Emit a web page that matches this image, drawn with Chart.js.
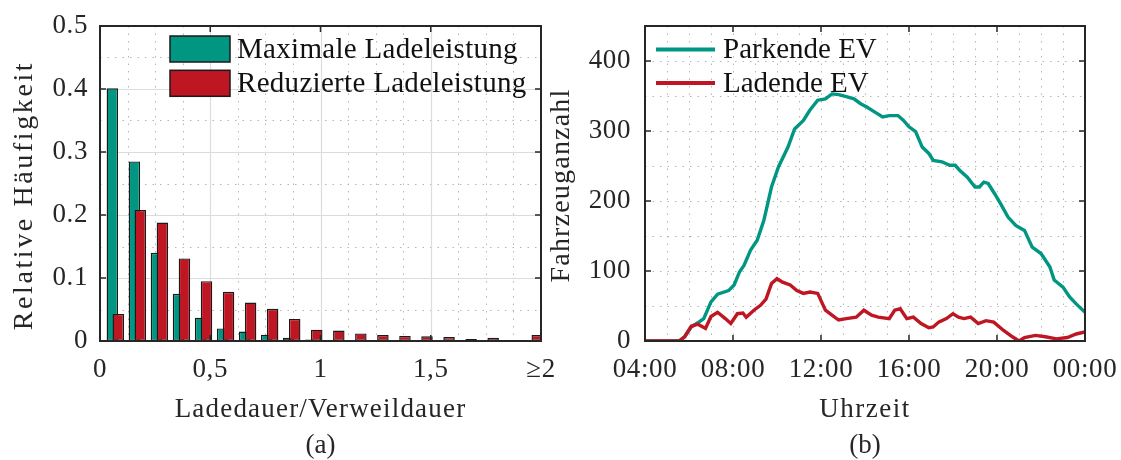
<!DOCTYPE html>
<html lang="de">
<head>
<meta charset="UTF-8">
<title>Ladedauer und Fahrzeuganzahl</title>
<script src="https://cdn.jsdelivr.net/npm/chart.js"></script>
<style>
  html, body { margin: 0; padding: 0; background: #fff; }
  .panel { position: absolute; top: 0; height: 460px; }
  #left { left: 0; width: 570px; }
  #right { left: 548px; width: 573px; }
</style>
</head>
<body>
<div class="panel" id="left"><canvas id="histChart" width="570" height="460"></canvas></div>
<div class="panel" id="right"><canvas id="countChart" width="573" height="460"></canvas></div>
<script>
// (a) Histogramm Ladedauer/Verweildauer, Klassenbreite 0,1
var binStarts = [0, 0.1, 0.2, 0.3, 0.4, 0.5, 0.6, 0.7, 0.8, 0.9,
                 1.0, 1.1, 1.2, 1.3, 1.4, 1.5, 1.6, 1.7, 1.8, 1.9];
var maxLadeleistung = [0.401, 0.285, 0.140, 0.075, 0.037, 0.020, 0.015, 0.010, 0.005, 0.0025,
                       0.0015, 0.0015, 0.001, 0.0004, 0.0004, 0.0004, 0.0003, 0.0003, 0.001, 0.0002];
var redLadeleistung = [0.043, 0.208, 0.188, 0.131, 0.095, 0.078, 0.061, 0.051, 0.035, 0.018,
                       0.0165, 0.012, 0.0095, 0.008, 0.0074, 0.0063, 0.0032, 0.0053, 0.001, 0.0095];
var histXTicks = [0, 0.5, 1, 1.5, 2];
var histXLabels = ['0', '0,5', '1', '1,5', '\u22652'];
var histYTicks = [0, 0.1, 0.2, 0.3, 0.4, 0.5];

// (b) Parkende und ladende Fahrzeuge über den Tag (Stunden ab 04:00, 24 = 00:00)
var parkendZeit = [4, 5.55, 5.8, 6.1, 6.4, 6.67, 7.0, 7.3, 7.8, 8.05, 8.3, 8.5, 8.8, 9.1, 9.4,
                   9.75, 10.07, 10.5, 10.8, 11.2, 11.5, 11.85, 12.2, 12.5, 12.8, 13.15, 13.5, 13.8,
                   14.1, 14.45, 14.8, 15.1, 15.5, 15.75, 16.0, 16.3, 16.6, 16.9, 17.1, 17.5, 17.85,
                   18.1, 18.3, 18.65, 19.0, 19.2, 19.4, 19.6, 19.9, 20.2, 20.5, 20.85, 21.25, 21.6,
                   22.0, 22.4, 22.6, 23.0, 23.3, 23.6, 24.0];
var parkend = [0, 0, 6, 20, 26, 32, 56, 67, 72, 80, 99, 108, 130, 144, 172,
               220, 249, 277, 303, 315, 330, 344, 346, 353, 352, 349, 346, 339,
               334, 327, 320, 322, 322, 315, 306, 299, 277, 268, 258, 256, 251,
               251, 244, 234, 220, 220, 227, 225, 210, 194, 177, 165, 158, 134,
               125, 106, 87, 77, 63, 53, 41];
var ladendZeit = [4, 5.55, 5.8, 6.1, 6.4, 6.75, 7.0, 7.3, 7.65, 7.9, 8.2, 8.45, 8.6, 8.95, 9.25,
                  9.5, 9.75, 10.0, 10.25, 10.6, 10.9, 11.2, 11.5, 11.85, 12.2, 12.5, 12.8, 13.15,
                  13.6, 13.95, 14.3, 14.6, 15.1, 15.35, 15.6, 15.9, 16.2, 16.55, 16.9, 17.1, 17.35,
                  17.7, 18.0, 18.25, 18.5, 18.8, 19.15, 19.5, 19.85, 20.3, 20.7, 21.0, 21.25, 21.75,
                  22.2, 22.7, 23.2, 23.6, 24.0];
var ladend = [0, 0, 6, 21, 24, 18, 35, 41, 32, 25, 39, 40, 34, 44, 51,
              60, 82, 89, 84, 80, 72, 68, 70, 68, 44, 37, 30, 32,
              34, 44, 37, 34, 32, 44, 46, 32, 34, 25, 19, 20, 27,
              32, 39, 34, 32, 34, 25, 29, 27, 15, 6, 0, 5, 8,
              6, 3, 5, 10, 13];
var timeTicks = [4, 8, 12, 16, 20, 24];
var timeLabels = ['04:00', '08:00', '12:00', '16:00', '20:00', '00:00'];
var countTicks = [0, 100, 200, 300, 400];

var TEAL = '#009682';
var RED = '#be1622';
var INK = '#262626';
var SERIF = '"Liberation Serif", "Times New Roman", serif';

Chart.defaults.font.family = SERIF;
Chart.defaults.font.size = 27;
Chart.defaults.color = INK;

function stepValues(min, max, step) {
  var out = [];
  var n = Math.round((max - min) / step);
  for (var i = 1; i < n; i++) out.push(min + i * step);
  return out;
}

// Gitter, Rahmen mit Innen-Ticks, Achsentitel, Legende und Bildunterschrift im MATLAB-Stil
var framePlugin = {
  id: 'frame',
  beforeDraw: function (chart) {
    // Die Schrift der Vorlage läuft etwas breiter als Liberation Serif
    chart.ctx.letterSpacing = '0.6px';
  },
  beforeDatasetsDraw: function (chart, args, o) {
    var ctx = chart.ctx, a = chart.chartArea;
    var xs = chart.scales.x, ys = chart.scales.y;
    var xMajor = xs.ticks.map(function (t) { return t.value; });
    var yMajor = ys.ticks.map(function (t) { return t.value; });
    function isMajor(list, v) {
      return list.some(function (m) { return Math.abs(m - v) < 1e-6; });
    }
    ctx.save();
    ctx.lineWidth = 1;
    ctx.strokeStyle = '#b5b5b5';
    ctx.setLineDash([1.5, 6]);
    ctx.beginPath();
    stepValues(xs.min, xs.max, o.xMinor).forEach(function (v) {
      if (o.solidMajor && isMajor(xMajor, v)) return;
      var p = Math.round(xs.getPixelForValue(v)) + 0.5;
      ctx.moveTo(p, a.top); ctx.lineTo(p, a.bottom);
    });
    stepValues(ys.min, ys.max, o.yMinor).forEach(function (v) {
      if (o.solidMajor && isMajor(yMajor, v)) return;
      var p = Math.round(ys.getPixelForValue(v)) + 0.5;
      ctx.moveTo(a.left, p); ctx.lineTo(a.right, p);
    });
    ctx.stroke();
    if (o.solidMajor) {
      ctx.setLineDash([]);
      ctx.strokeStyle = '#dcdcdc';
      ctx.lineWidth = 1.2;
      ctx.beginPath();
      xMajor.forEach(function (v) {
        if (v <= xs.min || v >= xs.max) return;
        var p = Math.round(xs.getPixelForValue(v)) + 0.5;
        ctx.moveTo(p, a.top); ctx.lineTo(p, a.bottom);
      });
      yMajor.forEach(function (v) {
        if (v <= ys.min || v >= ys.max) return;
        var p = Math.round(ys.getPixelForValue(v)) + 0.5;
        ctx.moveTo(a.left, p); ctx.lineTo(a.right, p);
      });
      ctx.stroke();
    }
    ctx.restore();
  },
  afterDatasetsDraw: function (chart) {
    var ctx = chart.ctx, a = chart.chartArea;
    var xs = chart.scales.x, ys = chart.scales.y;
    var tl = 6;
    ctx.save();
    ctx.strokeStyle = INK;
    ctx.lineWidth = 1.5;
    ctx.beginPath();
    xs.ticks.forEach(function (t) {
      var p = xs.getPixelForValue(t.value);
      ctx.moveTo(p, a.bottom); ctx.lineTo(p, a.bottom - tl);
      ctx.moveTo(p, a.top); ctx.lineTo(p, a.top + tl);
    });
    ys.ticks.forEach(function (t) {
      var p = ys.getPixelForValue(t.value);
      ctx.moveTo(a.left, p); ctx.lineTo(a.left + tl, p);
      ctx.moveTo(a.right, p); ctx.lineTo(a.right - tl, p);
    });
    ctx.stroke();
    ctx.lineWidth = 2;
    ctx.strokeRect(a.left, a.top, a.right - a.left, a.bottom - a.top);
    ctx.restore();
  },
  afterDraw: function (chart, args, o) {
    var ctx = chart.ctx, a = chart.chartArea;
    var cx = (a.left + a.right) / 2;
    var lg = o.legend;
    ctx.save();
    ctx.textBaseline = 'middle';

    // Legende innerhalb der Achsen
    ctx.font = lg.fontSize + 'px ' + SERIF;
    ctx.letterSpacing = lg.spacingText + 'px';
    ctx.textAlign = 'left';
    chart.data.datasets.forEach(function (ds, i) {
      var cy = a.top + lg.y + i * lg.spacing;
      var x0 = a.left + lg.x;
      if (lg.type === 'box') {
        ctx.fillStyle = ds.backgroundColor;
        ctx.fillRect(x0, cy - lg.h / 2, lg.w, lg.h);
        ctx.strokeStyle = '#1a1a1a';
        ctx.lineWidth = 1.5;
        ctx.strokeRect(x0, cy - lg.h / 2, lg.w, lg.h);
      } else {
        ctx.strokeStyle = ds.borderColor;
        ctx.lineWidth = 4;
        ctx.beginPath();
        ctx.moveTo(x0, cy); ctx.lineTo(x0 + lg.w, cy);
        ctx.stroke();
      }
      ctx.fillStyle = '#111';
      ctx.fillText(ds.label, x0 + lg.textX, cy + 1);
    });

    // Achsentitel
    ctx.fillStyle = INK;
    ctx.textAlign = 'center';
    ctx.font = o.xTitle.size + 'px ' + SERIF;
    ctx.letterSpacing = o.xTitle.spacing + 'px';
    ctx.fillText(o.xTitle.text, cx, o.xTitle.y);

    ctx.save();
    ctx.font = o.yTitle.size + 'px ' + SERIF;
    ctx.letterSpacing = o.yTitle.spacing + 'px';
    ctx.translate(o.yTitle.x, (a.top + a.bottom) / 2 + o.yTitle.shift);
    ctx.rotate(-Math.PI / 2);
    ctx.fillText(o.yTitle.text, 0, 0);
    ctx.restore();

    // Bildunterschrift (a)/(b)
    ctx.font = '27px ' + SERIF;
    ctx.letterSpacing = '0px';
    ctx.fillText(o.caption, cx, 446);
    ctx.restore();
    ctx.letterSpacing = '0px';
  }
};

function fixTicks(values) {
  return function (scale) {
    scale.ticks = values.map(function (v) { return { value: v }; });
  };
}
function fitX(h) {
  return function (scale) { scale.height = h; scale.paddingLeft = 0; scale.paddingRight = 0; };
}
function fitY(w) {
  return function (scale) { scale.width = w; scale.paddingTop = 0; scale.paddingBottom = 0; };
}

// Die Balken beider Reihen liegen leicht versetzt und überlappen sich
var tealOffset = 0.056;
var redOffset = 0.083;
var barWidthPx = 11.5;

function barSet(label, values, offset, axis, color, order) {
  return {
    label: label,
    data: binStarts.map(function (b, i) { return { x: b + offset, y: values[i] }; }),
    xAxisID: axis,
    backgroundColor: color,
    borderColor: '#1a1a1a',
    borderWidth: 1.4,
    borderSkipped: false,
    grouped: false,
    categoryPercentage: 1,
    barPercentage: 4,
    maxBarThickness: barWidthPx,
    order: order
  };
}

new Chart(document.getElementById('histChart'), {
  type: 'bar',
  data: {
    datasets: [
      barSet('Maximale Ladeleistung', maxLadeleistung, tealOffset, 'x', TEAL, 1),
      barSet('Reduzierte Ladeleistung', redLadeleistung, redOffset, 'x2', RED, 0)
    ]
  },
  options: {
    responsive: false,
    animation: false,
    layout: { padding: { top: 26, right: 29, left: 0, bottom: 0 } },
    plugins: {
      legend: { display: false },
      tooltip: { enabled: false },
      frame: {
        xMinor: 0.125, yMinor: 0.05, solidMajor: true, caption: '(a)',
        xTitle: { text: 'Ladedauer/Verweildauer', size: 27, spacing: 1.2, y: 410 },
        yTitle: { text: 'Relative H\u00e4ufigkeit', size: 28, spacing: 2.6, x: 25, shift: 12 },
        legend: { type: 'box', x: 70, y: 23, spacing: 34.3, w: 60, h: 26, textX: 67, fontSize: 29, spacingText: 0.3 }
      }
    },
    scales: {
      x: {
        type: 'linear', min: 0, max: 2, offset: false,
        afterBuildTicks: fixTicks(histXTicks),
        afterFit: fitX(119),
        grid: { display: false, drawTicks: false },
        border: { display: false },
        ticks: {
          padding: 13, maxRotation: 0, autoSkip: false,
          callback: function (v, i) { return histXLabels[i]; }
        }
      },
      x2: { type: 'linear', min: 0, max: 2, offset: false, display: false },
      y: {
        min: 0, max: 0.5,
        afterBuildTicks: fixTicks(histYTicks),
        afterFit: fitY(100),
        grid: { display: false, drawTicks: false },
        border: { display: false },
        ticks: {
          padding: 12,
          callback: function (v) { return v === 0 ? '0' : v.toFixed(1); }
        }
      }
    }
  },
  plugins: [framePlugin]
});

new Chart(document.getElementById('countChart'), {
  type: 'line',
  data: {
    datasets: [{
      label: 'Parkende EV',
      data: parkendZeit.map(function (t, i) { return { x: t, y: parkend[i] }; }),
      borderColor: TEAL,
      borderWidth: 3.4,
      pointRadius: 0,
      tension: 0,
      order: 1
    }, {
      label: 'Ladende EV',
      data: ladendZeit.map(function (t, i) { return { x: t, y: ladend[i] }; }),
      borderColor: RED,
      borderWidth: 3.4,
      pointRadius: 0,
      tension: 0,
      order: 0
    }]
  },
  options: {
    responsive: false,
    animation: false,
    layout: { padding: { top: 26, right: 36, left: 0, bottom: 0 } },
    plugins: {
      legend: { display: false },
      tooltip: { enabled: false },
      frame: {
        xMinor: 1, yMinor: 50, solidMajor: false, caption: '(b)',
        xTitle: { text: 'Uhrzeit', size: 27, spacing: 1.5, y: 410 },
        yTitle: { text: 'Fahrzeuganzahl', size: 28, spacing: 1.2, x: 14, shift: 2 },
        legend: { type: 'line', x: 11, y: 23.6, spacing: 33.4, w: 59, textX: 67, fontSize: 29, spacingText: 0 }
      }
    },
    scales: {
      x: {
        type: 'linear', min: 4, max: 24,
        afterBuildTicks: fixTicks(timeTicks),
        afterFit: fitX(119),
        grid: { display: false, drawTicks: false },
        border: { display: false },
        ticks: {
          padding: 13, maxRotation: 0, autoSkip: false,
          callback: function (v, i) { return timeLabels[i]; }
        }
      },
      y: {
        min: 0, max: 450,
        afterBuildTicks: fixTicks(countTicks),
        afterFit: fitY(97),
        grid: { display: false, drawTicks: false },
        border: { display: false },
        ticks: { padding: 14 }
      }
    }
  },
  plugins: [framePlugin]
});
</script>
</body>
</html>
